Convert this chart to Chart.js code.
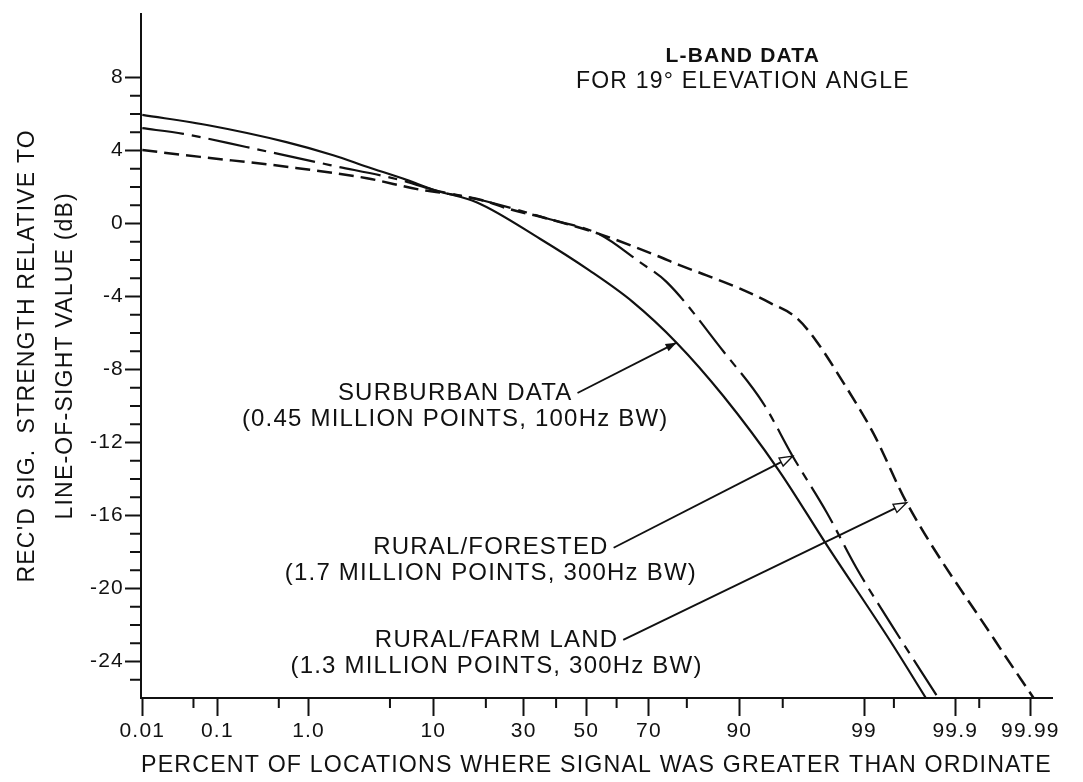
<!DOCTYPE html>
<html>
<head>
<meta charset="utf-8">
<script src="https://cdn.jsdelivr.net/npm/chart.js@4.4.1/dist/chart.umd.min.js"></script>
<style>
  html, body { margin: 0; padding: 0; background: #fff; }
  #wrap { width: 1083px; height: 782px; position: relative; }
</style>
</head>
<body>
<div id="wrap"><canvas id="lbandChart"></canvas></div>
<script>
// percent of locations where the signal exceeded the ordinate, and the level in dB
const suburbanPct = [0.01, 0.08, 0.6, 1.7, 3.3, 6.6, 10, 18, 35, 51, 65, 77.5, 87.4, 94.6, 97.8, 99.45, 99.777];
const suburbanDb  = [5.95, 5.37, 4.46, 3.74, 3.11, 2.39, 1.85, 1.15, -0.85, -2.57, -4.28, -6.53, -9.44, -13.48, -17.62, -22.85, -26];

const forestedPct = [0.01, 0.037, 0.22, 1.59, 5.9, 10, 20, 38, 54.5, 67.3, 74.9, 87.4, 93.1, 95.8, 97.79, 98.82, 99.49, 99.84];
const forestedDb  = [5.22, 4.91, 4.19, 3.2, 2.39, 1.85, 1.22, 0.23, -0.6, -2.12, -3.2, -6.99, -9.87, -12.75, -15.82, -18.89, -22.13, -26];

const farmPct = [0.01, 0.061, 0.6, 3.3, 8.2, 11, 20, 25, 38, 54.5, 72.2, 78.4, 84.3, 90.1, 93.8, 96.1, 97.3, 98.32, 99.19, 99.635, 99.969, 99.991];
const farmDb  = [4.02, 3.65, 3.11, 2.48, 1.85, 1.7, 1.22, 0.85, 0.23, -0.58, -1.76, -2.3, -2.84, -3.57, -4.35, -5.18, -6.45, -8.43, -11.5, -15.3, -22.85, -26];

// probability-paper ticks
const pctTicks  = [0.01, 0.1, 1, 10, 30, 50, 70, 90, 99, 99.9, 99.99];
const pctLabels = ["0.01", "0.1", "1.0", "10", "30", "50", "70", "90", "99", "99.9", "99.99"];
const pctMinor  = [0.05, 0.5, 5, 20, 40, 60, 80, 95, 99.5, 99.95];
const dbTicks   = [8, 4, 0, -4, -8, -12, -16, -20, -24];

const FONT = '"Liberation Sans", Arial, Helvetica, sans-serif';
const INK = "#111";

// inverse normal CDF (Acklam) - the abscissa is a normal probability scale
function probit(p) {
    const a = [-3.969683028665376e+01, 2.209460984245205e+02, -2.759285104469687e+02, 1.383577518672690e+02, -3.066479806614716e+01, 2.506628277459239e+00];
    const b = [-5.447609879822406e+01, 1.615858368580409e+02, -1.556989798598866e+02, 6.680131188771972e+01, -1.328068155288572e+01];
    const c = [-7.784894002430293e-03, -3.223964580411365e-01, -2.400758277161838e+00, -2.549732539343734e+00, 4.374664141464968e+00, 2.938163982698783e+00];
    const d = [7.784695709041462e-03, 3.224671290700398e-01, 2.445134137142996e+00, 3.754408661907416e+00];
    const lo = 0.02425;
    if (p < lo) {
        const q = Math.sqrt(-2 * Math.log(p));
        return (((((c[0]*q + c[1])*q + c[2])*q + c[3])*q + c[4])*q + c[5]) / ((((d[0]*q + d[1])*q + d[2])*q + d[3])*q + 1);
    }
    if (p > 1 - lo) {
        const q = Math.sqrt(-2 * Math.log(1 - p));
        return -(((((c[0]*q + c[1])*q + c[2])*q + c[3])*q + c[4])*q + c[5]) / ((((d[0]*q + d[1])*q + d[2])*q + d[3])*q + 1);
    }
    const q = p - 0.5, r = q * q;
    return (((((a[0]*r + a[1])*r + a[2])*r + a[3])*r + a[4])*r + a[5])*q / (((((b[0]*r + b[1])*r + b[2])*r + b[3])*r + b[4])*r + 1);
}

const toPoints = (pct, db) => pct.map((p, i) => ({ x: probit(p / 100), y: db[i] }));

// callouts: text block centre in (percent, dB), arrow goes to a point of the series
const notes = [
    { lines: ["SURBURBAN DATA", "(0.45 MILLION POINTS, 100Hz BW)"], at: [13.6, -10.0], series: 0, tip: 77.5, head: "filled" },
    { lines: ["RURAL/FORESTED", "(1.7 MILLION POINTS, 300Hz BW)"], at: [21.2, -18.48], series: 1, tip: 95.8, head: "open" },
    { lines: ["RURAL/FARM LAND", "(1.3 MILLION POINTS, 300Hz BW)"], at: [22.6, -23.53], series: 2, tip: 99.635, head: "open" }
];
const seriesPct = [suburbanPct, forestedPct, farmPct];

function arrow(ctx, x0, y0, x1, y1, head) {
    const ang = Math.atan2(y1 - y0, x1 - x0);
    const len = head === "filled" ? 11 : 13, half = head === "filled" ? 4 : 4.5;
    const bx = x1 - len * Math.cos(ang), by = y1 - len * Math.sin(ang);
    ctx.beginPath();
    ctx.moveTo(x0, y0);
    ctx.lineTo(head === "filled" ? x1 : bx, head === "filled" ? y1 : by);
    ctx.lineWidth = 1.9;
    ctx.stroke();
    ctx.beginPath();
    ctx.moveTo(x1, y1);
    ctx.lineTo(bx + half * Math.sin(ang), by - half * Math.cos(ang));
    ctx.lineTo(bx - half * Math.sin(ang), by + half * Math.cos(ang));
    ctx.closePath();
    if (head === "filled") {
        ctx.fill();
    } else {
        ctx.lineWidth = 1.4;
        ctx.stroke();
    }
}

const paperPlugin = {
    id: "paper",
    beforeDraw(chart) {
        chart.ctx.letterSpacing = "1.2px";
    },
    afterDraw(chart) {
        const ctx = chart.ctx, xs = chart.scales.x, ys = chart.scales.y, area = chart.chartArea;
        ctx.save();
        ctx.strokeStyle = INK;
        ctx.fillStyle = INK;
        ctx.lineWidth = 2;

        // short minor ticks
        ctx.beginPath();
        pctMinor.forEach(p => {
            const px = xs.getPixelForValue(probit(p / 100));
            ctx.moveTo(px, area.bottom);
            ctx.lineTo(px, area.bottom + 10);
        });
        for (let v = -25; v <= 7; v++) {
            if (v % 4 === 0) continue;
            const py = ys.getPixelForValue(v);
            ctx.moveTo(area.left - 11, py);
            ctx.lineTo(area.left, py);
        }
        ctx.stroke();

        // heading
        ctx.textAlign = "center";
        ctx.textBaseline = "middle";
        const hx = xs.getPixelForValue(probit(0.905)), hy = ys.getPixelForValue(8.48);
        ctx.font = "bold 21px " + FONT;
        ctx.fillText("L-BAND DATA", hx, hy - 13);
        ctx.font = "23px " + FONT;
        ctx.fillText("FOR 19° ELEVATION ANGLE", hx, hy + 13);

        // callouts
        ctx.font = "24px " + FONT;
        notes.forEach(n => {
            const cx = xs.getPixelForValue(probit(n.at[0] / 100));
            const cy = ys.getPixelForValue(n.at[1]);
            ctx.fillText(n.lines[0], cx, cy - 13);
            ctx.fillText(n.lines[1], cx, cy + 13);
            const w = ctx.measureText(n.lines[0]).width;
            const idx = seriesPct[n.series].indexOf(n.tip);
            const el = chart.getDatasetMeta(n.series).data[idx];
            arrow(ctx, cx + w / 2 + 5, cy - 13, el.x, el.y, n.head);
        });
        ctx.restore();
        ctx.letterSpacing = "0px";
    }
};

const lineStyle = { borderColor: INK, pointRadius: 0, fill: false, cubicInterpolationMode: "monotone", borderCapStyle: "butt", borderJoinStyle: "round" };

new Chart(document.getElementById("lbandChart").getContext("2d"), {
    type: "line",
    data: {
        datasets: [
            { ...lineStyle, label: "Suburban", data: toPoints(suburbanPct, suburbanDb), borderWidth: 2.2 },
            { ...lineStyle, label: "Rural/forested", data: toPoints(forestedPct, forestedDb), borderWidth: 2.2, borderDash: [42, 8, 9, 8] },
            { ...lineStyle, label: "Rural/farm land", data: toPoints(farmPct, farmDb), borderWidth: 2.5, borderDash: [15, 7] }
        ]
    },
    options: {
        responsive: true,
        maintainAspectRatio: false,
        animation: false,
        devicePixelRatio: 1,
        layout: { padding: { top: 5, right: 31, left: 0, bottom: 0 } },
        plugins: { legend: { display: false }, tooltip: { enabled: false } },
        scales: {
            x: {
                type: "linear",
                min: -3.73,
                max: 3.90,
                afterBuildTicks: s => { s.ticks = pctTicks.map(p => ({ value: probit(p / 100) })); },
                afterFit: s => { s.height = 84; s.paddingLeft = 0; s.paddingRight = 0; },
                ticks: {
                    autoSkip: false, maxRotation: 0, minRotation: 0, padding: 3, color: INK,
                    font: { family: FONT, size: 21 },
                    callback: (v, i) => pctLabels[i]
                },
                grid: { drawOnChartArea: false, drawTicks: true, tickLength: 18, tickWidth: 2, tickColor: INK },
                border: { display: true, color: INK, width: 2 },
                title: {
                    display: true, text: "PERCENT OF LOCATIONS WHERE SIGNAL WAS GREATER THAN ORDINATE",
                    color: INK, font: { family: FONT, size: 24 }, padding: { top: 0, bottom: 2 }
                }
            },
            y: {
                type: "linear",
                min: -26,
                max: 11.5,
                afterBuildTicks: s => { s.ticks = dbTicks.map(v => ({ value: v })); },
                afterFit: s => { s.width = 141; },
                ticks: { padding: 1, color: INK, font: { family: FONT, size: 21 }, callback: v => String(v) },
                grid: { drawOnChartArea: false, drawTicks: true, tickLength: 16, tickWidth: 2, tickColor: INK },
                border: { display: true, color: INK, width: 2 },
                title: {
                    display: true,
                    text: ["REC'D SIG.  STRENGTH RELATIVE TO", "LINE-OF-SIGHT VALUE (dB)"],
                    color: INK, font: { family: FONT, size: 23, lineHeight: 1.65 }, padding: { top: 9, bottom: 0 }
                }
            }
        }
    },
    plugins: [paperPlugin]
});
</script>
</body>
</html>
